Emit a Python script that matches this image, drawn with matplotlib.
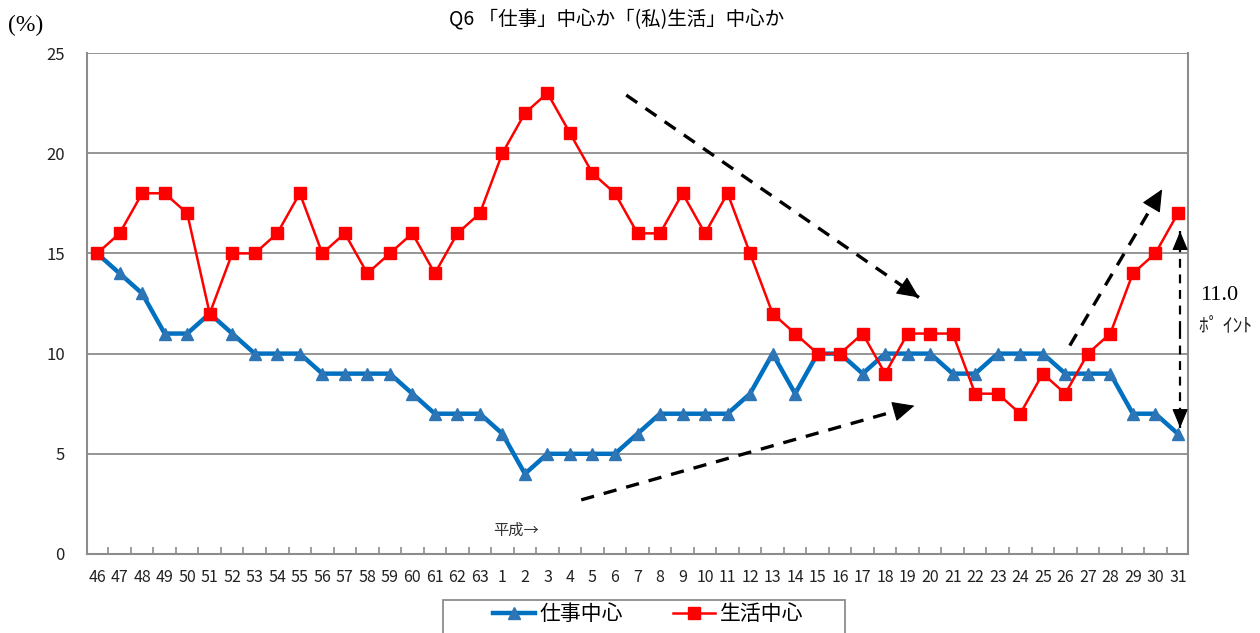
import matplotlib.pyplot as plt
from matplotlib.lines import Line2D
from matplotlib.patches import Rectangle

plt.rcParams["font.family"] = ["Noto Sans CJK JP", "DejaVu Sans"]

YEARS = [str(y) for y in range(46, 64)] + [str(y) for y in range(1, 32)]
WORK = [15, 14, 13, 11, 11, 12, 11, 10, 10, 10, 9, 9, 9, 9, 8, 7, 7, 7,
        6, 4, 5, 5, 5, 5, 6, 7, 7, 7, 7, 8, 10, 8, 10, 10, 9, 10, 10, 10,
        9, 9, 10, 10, 10, 9, 9, 9, 7, 7, 6]
LIFE = [15, 16, 18, 18, 17, 12, 15, 15, 16, 18, 15, 16, 14, 15, 16, 14, 16, 17,
        20, 22, 23, 21, 19, 18, 16, 16, 18, 16, 18, 15, 12, 11, 10, 10, 11, 9,
        11, 11, 11, 8, 8, 7, 9, 8, 10, 11, 14, 15, 17]
SERIES_NAMES = ["仕事中心", "生活中心"]

BLUE = "#0070C0"
BLUE_MK = "#2E75B6"
RED = "#FF0000"
GRID = "#8C8C8C"


def dashed_arrow(ax, start, end, lw=2.4, head="head_length=1.4,head_width=0.65"):
    # dashed shaft, solid head
    ax.plot([start[0], end[0]], [start[1], end[1]], color="black", lw=lw,
            linestyle=(0, (4, 3)), solid_capstyle="butt", zorder=5)
    back = (end[0] - 0.03 * (end[0] - start[0]), end[1] - 0.03 * (end[1] - start[1]))
    ax.annotate("", xy=end, xytext=back, zorder=5,
                arrowprops=dict(arrowstyle="-|>," + head, color="black",
                                lw=0.8, shrinkA=0, shrinkB=0))


fig = plt.figure(figsize=(12.6, 6.33), dpi=100)
ax = fig.add_axes([87 / 1260, 1 - 554 / 633, (1188 - 87) / 1260, (554 - 53) / 633])

x = list(range(len(YEARS)))
ax.plot(x, WORK, color=BLUE, lw=3.2, marker="^", ms=9,
        markerfacecolor=BLUE_MK, markeredgecolor=BLUE_MK, zorder=3)
ax.plot(x, LIFE, color=RED, lw=1.8, marker="s", ms=8,
        markerfacecolor=RED, markeredgecolor=RED, zorder=4)

ax.set_xlim(-0.45, len(YEARS) - 0.55)
ax.set_ylim(0, 25)
ax.set_yticks([0, 5, 10, 15, 20, 25])
ax.yaxis.grid(True, color=GRID, lw=1.3)
ax.set_axisbelow(True)
ax.tick_params(axis="y", length=0, labelsize=12, pad=16, colors="#222222")

ax.set_xticks(x)
ax.set_xticklabels(YEARS, fontsize=11.5, color="#222222")
ax.tick_params(axis="x", length=0, pad=11)
ax.set_xticks([i + 0.5 for i in x[:-1]], minor=True)
ax.tick_params(axis="x", which="minor", length=5, direction="in",
               color=GRID, width=1.2)

for side in ["left", "bottom", "right"]:
    ax.spines[side].set_color(GRID)
    ax.spines[side].set_linewidth(1.5)
ax.spines["top"].set_visible(False)

# trend arrows
dashed_arrow(ax, (23.5, 22.9), (36.5, 12.8))
dashed_arrow(ax, (21.5, 2.7), (36.3, 7.4))
dashed_arrow(ax, (43.2, 10.4), (47.3, 18.2))
dashed_arrow(ax, (48.1, 11.2), (48.1, 6.3), lw=1.6, head="head_length=1.2,head_width=0.5")
dashed_arrow(ax, (48.1, 11.2), (48.1, 16.1), lw=1.6, head="head_length=1.2,head_width=0.5")

fig.text(1200 / 1260, 1 - 295 / 633, "11.0", fontsize=16,
         family="Liberation Serif", va="center", ha="left")
fig.text(1199 / 1260, 1 - 327 / 633, "ﾎﾟ ｲﾝﾄ", fontsize=14,
         va="center", ha="left", color="#222222")
ax.text(18.6, 1.2, "平成→", fontsize=11, color="#333333", ha="center", va="center")

fig.text(617 / 1260, 1 - 20 / 633, "Q6 「仕事」中心か「(私)生活」中心か",
         fontsize=14, ha="center", va="center")
fig.text(8 / 1260, 1 - 25 / 633, "(%)", fontsize=17,
         family="Liberation Serif", va="center", ha="left")

handles = [
    Line2D([0], [0], color=BLUE, lw=3.2, marker="^", ms=9,
           markerfacecolor=BLUE_MK, markeredgecolor=BLUE_MK),
    Line2D([0], [0], color=RED, lw=1.8, marker="s", ms=8,
           markerfacecolor=RED, markeredgecolor=RED),
]
fig.legend(handles, SERIES_NAMES, loc="upper left",
           bbox_to_anchor=(493 / 1260, 1 - 603 / 633), ncol=2,
           fontsize=15, frameon=False, handlelength=2.0, columnspacing=2.4,
           borderpad=0, borderaxespad=0, handletextpad=0.25)
fig.patches.append(Rectangle((443 / 1260, -0.05), (845 - 443) / 1260,
                             0.05 + (633 - 600) / 633, transform=fig.transFigure,
                             fill=False, edgecolor=GRID, lw=1.3))

fig.savefig("out.png", dpi=100, facecolor="white")
